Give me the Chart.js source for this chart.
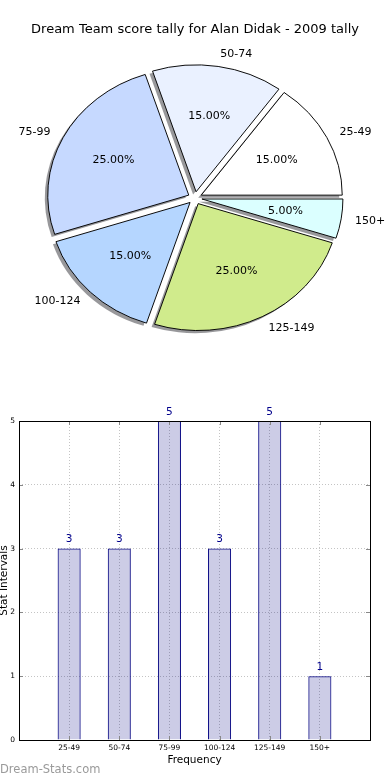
<!DOCTYPE html>
<html>
<head>
<meta charset="utf-8">
<script src="https://cdn.jsdelivr.net/npm/chart.js@4.4.1/dist/chart.umd.min.js"></script>
<style>
    html, body { margin: 0; padding: 0; background: #ffffff; }
    canvas { display: block; }
</style>
</head>
<body>
<canvas id="pieChart" width="390" height="370"></canvas>
<canvas id="barChart" width="390" height="410"></canvas>
<script>
// Datos
const categories = ['25-49', '50-74', '75-99', '100-124', '125-149', '150+'];
const counts = [3, 3, 5, 3, 5, 1];
const sliceColors = ['#ffffff', '#eaf1ff', '#c6d9ff', '#b5d6ff', '#d0eb8c', '#dbffff'];
const yTicks = [0, 1, 2, 3, 4, 5];

const titleText = 'Dream Team score tally for Alan Didak - 2009 tally';
const pieSquash = 0.9;   // el pie original es una elipse
const explode = 7;       // separacion de cada porcion (px)

Chart.defaults.font.family = "'DejaVu Sans', sans-serif";
Chart.defaults.color = '#000000';

// matplotlib va en sentido antihorario, Chart.js en horario
const pieLabels = categories.slice().reverse();
const pieValues = counts.slice().reverse();
const pieColors = sliceColors.slice().reverse();
const total = counts.reduce((a, b) => a + b, 0);

const piePlugin = {
    id: 'pieExtras',
    beforeDatasetDraw(chart, args) {
        const ctx = chart.ctx;
        const arcs = args.meta.data;
        const cx = arcs[0].x, cy = arcs[0].y;
        ctx.save();
        ctx.translate(cx, cy);
        ctx.scale(1, pieSquash);
        ctx.translate(-cx, -cy);
        // sombras
        ctx.fillStyle = 'rgba(50, 50, 55, 0.5)';
        arcs.forEach(a => {
            const mid = (a.startAngle + a.endAngle) / 2;
            const x = a.x + Math.cos(mid) * explode - 3;
            const y = a.y + Math.sin(mid) * explode + 3;
            ctx.beginPath();
            ctx.moveTo(x, y);
            ctx.arc(x, y, a.outerRadius, a.startAngle, a.endAngle);
            ctx.closePath();
            ctx.fill();
        });
        // porciones separadas
        arcs.forEach(a => {
            const mid = (a.startAngle + a.endAngle) / 2;
            ctx.save();
            ctx.translate(Math.cos(mid) * explode, Math.sin(mid) * explode);
            a.draw(ctx);
            ctx.restore();
        });
        ctx.restore();
        return false;
    },
    afterDatasetsDraw(chart) {
        const ctx = chart.ctx;
        const arcs = chart.getDatasetMeta(0).data;
        ctx.save();
        ctx.fillStyle = '#000000';
        ctx.font = "11px 'DejaVu Sans'";
        ctx.textBaseline = 'middle';
        arcs.forEach((a, i) => {
            const mid = (a.startAngle + a.endAngle) / 2;
            const lr = a.outerRadius * 1.1 + explode;
            ctx.textAlign = Math.cos(mid) >= 0 ? 'left' : 'right';
            ctx.fillText(pieLabels[i], a.x + Math.cos(mid) * lr, a.y + Math.sin(mid) * lr * pieSquash);
            const pr = a.outerRadius * 0.6 + explode;
            ctx.textAlign = 'center';
            const pct = (pieValues[i] / total * 100).toFixed(2) + '%';
            ctx.fillText(pct, a.x + Math.cos(mid) * pr, a.y + Math.sin(mid) * pr * pieSquash);
        });
        ctx.restore();
    }
};

const barPlugin = {
    id: 'barExtras',
    afterDraw(chart) {
        const ctx = chart.ctx;
        const area = chart.chartArea;
        const xs = chart.scales.x, ys = chart.scales.y;
        ctx.save();
        // marcas de los ejes hacia dentro
        ctx.strokeStyle = '#888888';
        ctx.lineWidth = 1;
        ctx.beginPath();
        categories.forEach((c, i) => {
            const px = Math.round(xs.getPixelForValue(i)) + 0.5;
            ctx.moveTo(px, area.bottom); ctx.lineTo(px, area.bottom - 4);
            ctx.moveTo(px, area.top); ctx.lineTo(px, area.top + 4);
        });
        yTicks.forEach(v => {
            const py = Math.round(ys.getPixelForValue(v)) + 0.5;
            ctx.moveTo(area.left, py); ctx.lineTo(area.left + 4, py);
            ctx.moveTo(area.right, py); ctx.lineTo(area.right - 4, py);
        });
        ctx.stroke();
        // marco
        ctx.strokeStyle = '#000000';
        ctx.strokeRect(Math.round(area.left) + 0.5, Math.round(area.top) + 0.5,
            Math.round(area.right - area.left), Math.round(area.bottom - area.top));
        // valores encima de las barras
        ctx.fillStyle = '#00008b';
        ctx.font = "10.5px 'DejaVu Sans'";
        ctx.textAlign = 'center';
        ctx.textBaseline = 'middle';
        chart.getDatasetMeta(0).data.forEach((bar, i) => {
            ctx.fillText(String(counts[i]), bar.x, bar.y - 9);
        });
        // titulos de ejes
        ctx.fillStyle = '#000000';
        ctx.fillText('Frequency', (area.left + area.right) / 2, area.bottom + 20);
        ctx.save();
        ctx.translate(4, (area.top + area.bottom) / 2);
        ctx.rotate(-Math.PI / 2);
        ctx.fillText('Stat Intervals', 0, 0);
        ctx.restore();
        // marca de agua
        ctx.fillStyle = '#9a9a9a';
        ctx.font = "11.5px 'DejaVu Sans'";
        ctx.textAlign = 'left';
        ctx.fillText('Dream-Stats.com', 0, area.bottom + 30);
        ctx.restore();
    }
};

function initializeCharts() {
    // Pie
    const pieCtx = document.getElementById('pieChart').getContext('2d');
    new Chart(pieCtx, {
        type: 'pie',
        data: {
            labels: pieLabels,
            datasets: [{
                data: pieValues,
                backgroundColor: pieColors,
                borderColor: '#000000',
                borderWidth: 1,
                hoverOffset: 0
            }]
        },
        options: {
            responsive: false,
            animation: false,
            rotation: 90,
            radius: 141,
            layout: { padding: { top: 12, bottom: 21.6, left: 0, right: 0 } },
            plugins: {
                legend: { display: false },
                tooltip: { enabled: false },
                title: {
                    display: true,
                    text: titleText,
                    color: '#000000',
                    font: { size: 13, weight: 'normal' },
                    padding: { top: 10, bottom: 10 }
                }
            }
        },
        plugins: [piePlugin]
    });

    // Barras
    const barCtx = document.getElementById('barChart').getContext('2d');
    new Chart(barCtx, {
        type: 'bar',
        data: {
            datasets: [{
                data: counts.map((v, i) => ({ x: i, y: v })),
                backgroundColor: 'rgba(0, 0, 128, 0.2)',
                borderColor: '#000080',
                borderWidth: 1,
                barPercentage: 0.46,
                categoryPercentage: 1
            }]
        },
        options: {
            responsive: false,
            animation: false,
            layout: { padding: { top: 51, right: 20, left: 0, bottom: 0 } },
            plugins: {
                legend: { display: false },
                tooltip: { enabled: false }
            },
            scales: {
                x: {
                    type: 'linear',
                    min: -1,
                    max: 6,
                    offset: false,
                    afterFit: s => { s.height = 40; },
                    grid: { offset: false, color: '#c4c4c4', drawTicks: false },
                    border: { display: false, dash: [1, 2] },
                    ticks: {
                        stepSize: 1,
                        padding: 4,
                        autoSkip: false,
                        maxRotation: 0,
                        font: { size: 7.5 },
                        color: '#000000',
                        callback: v => categories[v] || ''
                    }
                },
                y: {
                    min: 0,
                    max: 5,
                    afterFit: s => { s.width = 19; },
                    grid: { color: '#c4c4c4', drawTicks: false },
                    border: { display: false, dash: [1, 2] },
                    ticks: {
                        stepSize: 1,
                        padding: 4,
                        font: { size: 7.5 },
                        color: '#000000'
                    }
                }
            }
        },
        plugins: [barPlugin]
    });
}

document.addEventListener('DOMContentLoaded', initializeCharts);
</script>
</body>
</html>
